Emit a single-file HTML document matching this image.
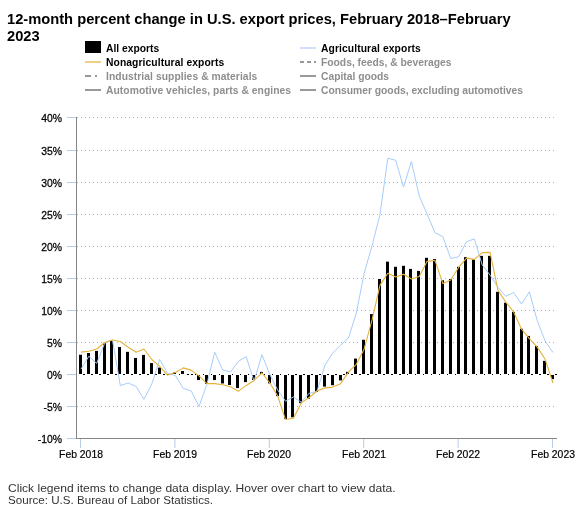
<!DOCTYPE html>
<html><head><meta charset="utf-8">
<style>
html,body{margin:0;padding:0;background:#fff;}
.title,.lg,.yl,.xl,.foot{will-change:transform;}
body{width:586px;height:522px;position:relative;overflow:hidden;font-family:"Liberation Sans",sans-serif;}
.title{position:absolute;left:7px;top:11px;width:515px;font-size:14.7px;font-weight:bold;line-height:17px;color:#000;}
.lg{position:absolute;font-size:10.3px;font-weight:bold;white-space:nowrap;line-height:12px;}
.on{color:#000;}
.off{color:#8e8e8e;}
.yl{position:absolute;left:0;width:62px;text-align:right;font-size:10.4px;line-height:13px;color:#000;transform:scaleY(1.12);transform-origin:100% 50%;-webkit-text-stroke:0.25px #000;}
.xl{position:absolute;top:448px;width:60px;text-align:center;font-size:10.4px;line-height:13px;color:#000;-webkit-text-stroke:0.2px #000;}
.foot{position:absolute;left:7.5px;font-size:10.8px;line-height:12px;color:#333;white-space:nowrap;transform-origin:0 50%;}
svg{position:absolute;left:0;top:0;}
</style></head><body>
<div class="title">12-month percent change in U.S. export prices, February 2018–February 2023</div>
<svg width="586" height="522" viewBox="0 0 586 522">
<rect x="85" y="41" width="16" height="12" fill="#000"/>
<rect x="85" y="61" width="16" height="2" fill="#efcf86"/>
<rect x="85" y="75" width="6" height="2" fill="#999"/>
<rect x="95" y="75" width="2" height="2" fill="#999"/>
<rect x="85" y="89" width="16" height="2" fill="#999"/>
<rect x="300" y="47" width="16" height="2" fill="#cfe0f8"/>
<rect x="300" y="61" width="4" height="2" fill="#999"/>
<rect x="307" y="61" width="4" height="2" fill="#999"/>
<rect x="314" y="61" width="2" height="2" fill="#999"/>
<rect x="300" y="75" width="16" height="2" fill="#999"/>
<rect x="300" y="89" width="16" height="2" fill="#999"/>
<line x1="77" y1="117.5" x2="556" y2="117.5" stroke="#b2b2b2" stroke-width="1" stroke-dasharray="1,3"/>
<line x1="77" y1="150.5" x2="556" y2="150.5" stroke="#b2b2b2" stroke-width="1" stroke-dasharray="1,3"/>
<line x1="77" y1="182.5" x2="556" y2="182.5" stroke="#b2b2b2" stroke-width="1" stroke-dasharray="1,3"/>
<line x1="77" y1="214.5" x2="556" y2="214.5" stroke="#b2b2b2" stroke-width="1" stroke-dasharray="1,3"/>
<line x1="77" y1="246.5" x2="556" y2="246.5" stroke="#b2b2b2" stroke-width="1" stroke-dasharray="1,3"/>
<line x1="77" y1="278.5" x2="556" y2="278.5" stroke="#b2b2b2" stroke-width="1" stroke-dasharray="1,3"/>
<line x1="77" y1="310.5" x2="556" y2="310.5" stroke="#b2b2b2" stroke-width="1" stroke-dasharray="1,3"/>
<line x1="77" y1="342.5" x2="556" y2="342.5" stroke="#b2b2b2" stroke-width="1" stroke-dasharray="1,3"/>
<line x1="77" y1="406.5" x2="556" y2="406.5" stroke="#b2b2b2" stroke-width="1" stroke-dasharray="1,3"/>
<line x1="67" y1="117.5" x2="76" y2="117.5" stroke="#b9cde5" stroke-width="1"/>
<line x1="67" y1="150.5" x2="76" y2="150.5" stroke="#b9cde5" stroke-width="1"/>
<line x1="67" y1="182.5" x2="76" y2="182.5" stroke="#b9cde5" stroke-width="1"/>
<line x1="67" y1="214.5" x2="76" y2="214.5" stroke="#b9cde5" stroke-width="1"/>
<line x1="67" y1="246.5" x2="76" y2="246.5" stroke="#b9cde5" stroke-width="1"/>
<line x1="67" y1="278.5" x2="76" y2="278.5" stroke="#b9cde5" stroke-width="1"/>
<line x1="67" y1="310.5" x2="76" y2="310.5" stroke="#b9cde5" stroke-width="1"/>
<line x1="67" y1="342.5" x2="76" y2="342.5" stroke="#b9cde5" stroke-width="1"/>
<line x1="67" y1="374.5" x2="76" y2="374.5" stroke="#b9cde5" stroke-width="1"/>
<line x1="67" y1="406.5" x2="76" y2="406.5" stroke="#b9cde5" stroke-width="1"/>
<line x1="67" y1="438.5" x2="76" y2="438.5" stroke="#b9cde5" stroke-width="1"/>
<line x1="80.50" y1="439" x2="80.50" y2="448" stroke="#b9cde5" stroke-width="1"/>
<line x1="174.90" y1="439" x2="174.90" y2="448" stroke="#b9cde5" stroke-width="1"/>
<line x1="269.30" y1="439" x2="269.30" y2="448" stroke="#b9cde5" stroke-width="1"/>
<line x1="363.70" y1="439" x2="363.70" y2="448" stroke="#b9cde5" stroke-width="1"/>
<line x1="458.10" y1="439" x2="458.10" y2="448" stroke="#b9cde5" stroke-width="1"/>
<line x1="552.50" y1="439" x2="552.50" y2="448" stroke="#b9cde5" stroke-width="1"/>
<line x1="77" y1="374.5" x2="557.5" y2="374.5" stroke="#000" stroke-width="1" stroke-dasharray="2,2" stroke-dashoffset="2"/>
<rect x="78.00" y="353.74" width="5" height="21.26" fill="#fff"/><rect x="79.00" y="354.74" width="3" height="19.26" fill="#000"/>
<rect x="86.00" y="352.01" width="5" height="22.99" fill="#fff"/><rect x="87.00" y="353.01" width="3" height="20.99" fill="#000"/>
<rect x="94.00" y="349.89" width="5" height="25.11" fill="#fff"/><rect x="95.00" y="350.89" width="3" height="23.11" fill="#000"/>
<rect x="102.00" y="341.86" width="5" height="33.14" fill="#fff"/><rect x="103.00" y="342.86" width="3" height="31.14" fill="#000"/>
<rect x="109.00" y="339.30" width="5" height="35.70" fill="#fff"/><rect x="110.00" y="340.30" width="3" height="33.70" fill="#000"/>
<rect x="117.00" y="346.04" width="5" height="28.96" fill="#fff"/><rect x="118.00" y="347.04" width="3" height="26.96" fill="#000"/>
<rect x="125.00" y="350.85" width="5" height="24.15" fill="#fff"/><rect x="126.00" y="351.85" width="3" height="22.15" fill="#000"/>
<rect x="133.00" y="356.95" width="5" height="18.05" fill="#fff"/><rect x="134.00" y="357.95" width="3" height="16.05" fill="#000"/>
<rect x="141.00" y="353.93" width="5" height="21.07" fill="#fff"/><rect x="142.00" y="354.93" width="3" height="19.07" fill="#000"/>
<rect x="149.00" y="362.09" width="5" height="12.91" fill="#fff"/><rect x="150.00" y="363.09" width="3" height="10.91" fill="#000"/>
<rect x="157.00" y="366.58" width="5" height="8.42" fill="#fff"/><rect x="158.00" y="367.58" width="3" height="6.42" fill="#000"/>
<rect x="172.00" y="371.52" width="5" height="3.48" fill="#fff"/><rect x="173.00" y="372.52" width="3" height="1.48" fill="#000"/>
<rect x="180.00" y="369.98" width="5" height="5.02" fill="#fff"/><rect x="181.00" y="370.98" width="3" height="3.02" fill="#000"/>
<rect x="196.00" y="374.00" width="5" height="7.06" fill="#fff"/><rect x="197.00" y="375.00" width="3" height="5.06" fill="#000"/>
<rect x="204.00" y="374.00" width="5" height="10.78" fill="#fff"/><rect x="205.00" y="375.00" width="3" height="8.78" fill="#000"/>
<rect x="212.00" y="374.00" width="5" height="7.06" fill="#fff"/><rect x="213.00" y="375.00" width="3" height="5.06" fill="#000"/>
<rect x="220.00" y="374.00" width="5" height="10.46" fill="#fff"/><rect x="221.00" y="375.00" width="3" height="8.46" fill="#000"/>
<rect x="227.00" y="374.00" width="5" height="12.00" fill="#fff"/><rect x="228.00" y="375.00" width="3" height="10.00" fill="#000"/>
<rect x="235.00" y="374.00" width="5" height="15.08" fill="#fff"/><rect x="236.00" y="375.00" width="3" height="13.08" fill="#000"/>
<rect x="243.00" y="374.00" width="5" height="9.11" fill="#fff"/><rect x="244.00" y="375.00" width="3" height="7.11" fill="#000"/>
<rect x="251.00" y="374.00" width="5" height="6.93" fill="#fff"/><rect x="252.00" y="375.00" width="3" height="4.93" fill="#000"/>
<rect x="259.00" y="370.88" width="5" height="4.12" fill="#fff"/><rect x="260.00" y="371.88" width="3" height="2.12" fill="#000"/>
<rect x="267.00" y="374.00" width="5" height="10.40" fill="#fff"/><rect x="268.00" y="375.00" width="3" height="8.40" fill="#000"/>
<rect x="275.00" y="374.00" width="5" height="23.11" fill="#fff"/><rect x="276.00" y="375.00" width="3" height="21.11" fill="#000"/>
<rect x="283.00" y="374.00" width="5" height="45.90" fill="#fff"/><rect x="284.00" y="375.00" width="3" height="43.90" fill="#000"/>
<rect x="290.00" y="374.00" width="5" height="44.29" fill="#fff"/><rect x="291.00" y="375.00" width="3" height="42.29" fill="#000"/>
<rect x="298.00" y="374.00" width="5" height="30.10" fill="#fff"/><rect x="299.00" y="375.00" width="3" height="28.10" fill="#000"/>
<rect x="306.00" y="374.00" width="5" height="25.61" fill="#fff"/><rect x="307.00" y="375.00" width="3" height="23.61" fill="#000"/>
<rect x="314.00" y="374.00" width="5" height="18.93" fill="#fff"/><rect x="315.00" y="375.00" width="3" height="16.93" fill="#000"/>
<rect x="322.00" y="374.00" width="5" height="13.61" fill="#fff"/><rect x="323.00" y="375.00" width="3" height="11.61" fill="#000"/>
<rect x="330.00" y="374.00" width="5" height="12.19" fill="#fff"/><rect x="331.00" y="375.00" width="3" height="10.19" fill="#000"/>
<rect x="338.00" y="374.00" width="5" height="7.38" fill="#fff"/><rect x="339.00" y="375.00" width="3" height="5.38" fill="#000"/>
<rect x="345.00" y="370.88" width="5" height="4.12" fill="#fff"/><rect x="346.00" y="371.88" width="3" height="2.12" fill="#000"/>
<rect x="353.00" y="357.59" width="5" height="17.41" fill="#fff"/><rect x="354.00" y="358.59" width="3" height="15.41" fill="#000"/>
<rect x="361.00" y="338.78" width="5" height="36.22" fill="#fff"/><rect x="362.00" y="339.78" width="3" height="34.22" fill="#000"/>
<rect x="369.00" y="313.10" width="5" height="61.90" fill="#fff"/><rect x="370.00" y="314.10" width="3" height="59.90" fill="#000"/>
<rect x="377.00" y="277.98" width="5" height="97.02" fill="#fff"/><rect x="378.00" y="278.98" width="3" height="95.02" fill="#000"/>
<rect x="385.00" y="260.65" width="5" height="114.35" fill="#fff"/><rect x="386.00" y="261.65" width="3" height="112.35" fill="#000"/>
<rect x="393.00" y="265.79" width="5" height="109.21" fill="#fff"/><rect x="394.00" y="266.79" width="3" height="107.21" fill="#000"/>
<rect x="401.00" y="264.82" width="5" height="110.18" fill="#fff"/><rect x="402.00" y="265.82" width="3" height="108.18" fill="#000"/>
<rect x="408.00" y="267.90" width="5" height="107.10" fill="#fff"/><rect x="409.00" y="268.90" width="3" height="105.10" fill="#000"/>
<rect x="416.00" y="269.89" width="5" height="105.11" fill="#fff"/><rect x="417.00" y="270.89" width="3" height="103.11" fill="#000"/>
<rect x="424.00" y="256.80" width="5" height="118.20" fill="#fff"/><rect x="425.00" y="257.80" width="3" height="116.20" fill="#000"/>
<rect x="432.00" y="258.08" width="5" height="116.92" fill="#fff"/><rect x="433.00" y="259.08" width="3" height="114.92" fill="#000"/>
<rect x="440.00" y="279.27" width="5" height="95.73" fill="#fff"/><rect x="441.00" y="280.27" width="3" height="93.73" fill="#000"/>
<rect x="448.00" y="277.98" width="5" height="97.02" fill="#fff"/><rect x="449.00" y="278.98" width="3" height="95.02" fill="#000"/>
<rect x="456.00" y="265.79" width="5" height="109.21" fill="#fff"/><rect x="457.00" y="266.79" width="3" height="107.21" fill="#000"/>
<rect x="463.00" y="256.16" width="5" height="118.84" fill="#fff"/><rect x="464.00" y="257.16" width="3" height="116.84" fill="#000"/>
<rect x="471.00" y="258.40" width="5" height="116.60" fill="#fff"/><rect x="472.00" y="259.40" width="3" height="114.60" fill="#000"/>
<rect x="479.00" y="254.87" width="5" height="120.13" fill="#fff"/><rect x="480.00" y="255.87" width="3" height="118.13" fill="#000"/>
<rect x="487.00" y="254.87" width="5" height="120.13" fill="#fff"/><rect x="488.00" y="255.87" width="3" height="118.13" fill="#000"/>
<rect x="495.00" y="290.82" width="5" height="84.18" fill="#fff"/><rect x="496.00" y="291.82" width="3" height="82.18" fill="#000"/>
<rect x="503.00" y="301.74" width="5" height="73.26" fill="#fff"/><rect x="504.00" y="302.74" width="3" height="71.26" fill="#000"/>
<rect x="511.00" y="310.92" width="5" height="64.08" fill="#fff"/><rect x="512.00" y="311.92" width="3" height="62.08" fill="#000"/>
<rect x="519.00" y="327.74" width="5" height="47.26" fill="#fff"/><rect x="520.00" y="328.74" width="3" height="45.26" fill="#000"/>
<rect x="526.00" y="334.93" width="5" height="40.07" fill="#fff"/><rect x="527.00" y="335.93" width="3" height="38.07" fill="#000"/>
<rect x="534.00" y="345.01" width="5" height="29.99" fill="#fff"/><rect x="535.00" y="346.01" width="3" height="27.99" fill="#000"/>
<rect x="542.00" y="359.90" width="5" height="15.10" fill="#fff"/><rect x="543.00" y="360.90" width="3" height="13.10" fill="#000"/>
<rect x="550.00" y="374.00" width="5" height="6.09" fill="#fff"/><rect x="551.00" y="375.00" width="3" height="4.09" fill="#000"/>
<polyline points="81.00,369.06 88.87,356.22 96.73,363.34 104.60,343.18 112.47,339.97 120.33,385.56 128.20,382.99 136.07,386.39 143.93,399.29 151.80,384.02 159.67,359.49 167.53,373.36 175.40,375.54 183.27,388.57 191.13,390.69 199.00,406.61 206.87,384.40 214.73,352.17 222.60,369.83 230.47,372.07 238.33,361.42 246.20,356.67 254.07,381.38 261.93,354.74 269.80,374.45 277.67,390.05 285.53,401.22 293.40,396.92 301.27,402.25 309.13,393.26 317.00,391.33 324.87,365.46 332.73,353.01 340.60,345.30 348.47,338.05 356.33,313.01 364.20,273.21 372.07,245.60 379.93,214.78 387.80,158.29 395.67,160.21 403.53,187.18 411.40,161.50 419.27,196.17 427.13,214.14 435.00,232.76 442.87,236.61 450.73,258.44 458.60,256.84 466.47,241.75 474.33,238.86 482.20,264.86 490.07,275.13 497.93,287.33 505.80,296.32 513.67,292.47 521.53,304.02 529.40,291.82 537.27,320.71 545.13,341.00 553.00,352.49" fill="none" stroke="#a6ccfb" stroke-width="1.0" stroke-linejoin="round"/>
<polyline points="81.00,352.17 88.87,351.21 96.73,348.96 104.60,342.54 112.47,339.97 120.33,341.51 128.20,347.23 136.07,352.17 143.93,348.96 151.80,359.49 159.67,366.30 167.53,375.09 175.40,372.52 183.27,367.90 191.13,370.15 199.00,375.93 206.87,383.63 214.73,383.63 222.60,384.72 230.47,386.71 238.33,391.33 246.20,385.43 254.07,380.42 261.93,372.78 269.80,382.80 277.67,396.02 285.53,419.58 293.40,418.30 301.27,402.89 309.13,397.50 317.00,391.01 324.87,387.87 332.73,387.10 340.60,383.63 348.47,372.07 356.33,364.37 364.20,348.96 372.07,319.88 379.93,285.40 387.80,273.21 395.67,277.06 403.53,274.17 411.40,278.98 419.27,276.42 427.13,261.33 435.00,260.37 442.87,283.61 450.73,279.95 458.60,267.43 466.47,258.12 474.33,259.40 482.20,252.66 490.07,252.34 497.93,290.22 505.80,302.10 513.67,312.11 521.53,329.06 529.40,338.69 537.27,347.10 545.13,359.30 553.00,382.99" fill="none" stroke="#e5b23a" stroke-width="1.1" stroke-linejoin="round"/>
<line x1="76.5" y1="117" x2="76.5" y2="438" stroke="#868686" stroke-width="1"/>
<line x1="76" y1="438.5" x2="557" y2="438.5" stroke="#868686" stroke-width="1"/>
</svg>
<div class="lg on" style="left:106px;top:43px">All exports</div>
<div class="lg on" style="left:106px;top:57px;letter-spacing:0.09px">Nonagricultural exports</div>
<div class="lg off" style="left:106px;top:71px;letter-spacing:0.065px">Industrial supplies &amp; materials</div>
<div class="lg off" style="left:106px;top:85px;letter-spacing:0.056px">Automotive vehicles, parts &amp; engines</div>
<div class="lg on" style="left:321px;top:43px;letter-spacing:0.1px">Agricultural exports</div>
<div class="lg off" style="left:321px;top:57px">Foods, feeds, &amp; beverages</div>
<div class="lg off" style="left:321px;top:71px">Capital goods</div>
<div class="lg off" style="left:321px;top:85px">Consumer goods, excluding automotives</div>
<div class="yl" style="top:111.8px">40%</div>
<div class="yl" style="top:144.8px">35%</div>
<div class="yl" style="top:176.8px">30%</div>
<div class="yl" style="top:208.8px">25%</div>
<div class="yl" style="top:240.8px">20%</div>
<div class="yl" style="top:272.8px">15%</div>
<div class="yl" style="top:304.8px">10%</div>
<div class="yl" style="top:336.8px">5%</div>
<div class="yl" style="top:368.8px">0%</div>
<div class="yl" style="top:400.8px">-5%</div>
<div class="yl" style="top:432.8px">-10%</div>

<div class="xl" style="left:50.5px">Feb 2018</div>
<div class="xl" style="left:144.9px">Feb 2019</div>
<div class="xl" style="left:239.3px">Feb 2020</div>
<div class="xl" style="left:333.7px">Feb 2021</div>
<div class="xl" style="left:428.1px">Feb 2022</div>
<div class="xl" style="left:522.5px">Feb 2023</div>

<div class="foot" style="top:482.3px;transform:scaleX(1.116)">Click legend items to change data display. Hover over chart to view data.</div>
<div class="foot" style="top:494px;transform:scaleX(1.074)">Source: U.S. Bureau of Labor Statistics.</div>
</body></html>
